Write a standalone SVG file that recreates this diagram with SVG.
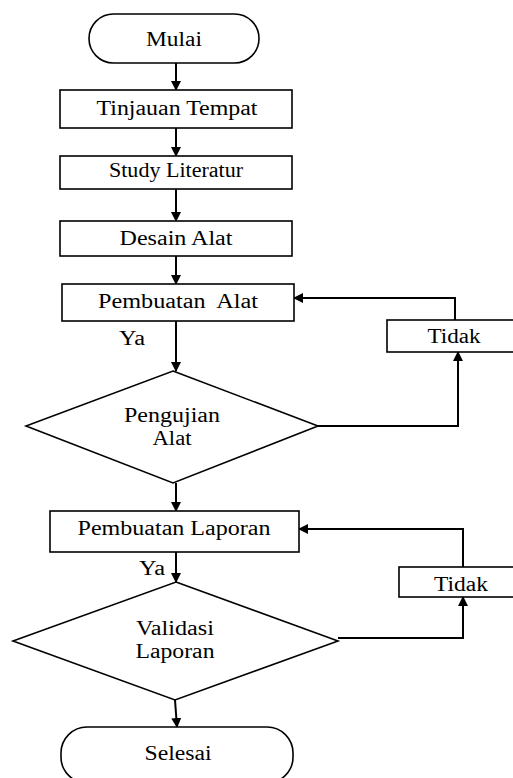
<svg xmlns="http://www.w3.org/2000/svg" width="513" height="778" viewBox="0 0 513 778">
<style>
.s{fill:#fff;stroke:#000;stroke-width:1.6}
.c{fill:none;stroke:#000;stroke-width:2}
.t{font-family:'Liberation Serif','DejaVu Serif',serif;font-size:20px;fill:#000;text-anchor:middle}
</style>
<defs>
<marker id="a" markerWidth="10" markerHeight="10" refX="9" refY="5" orient="auto" markerUnits="userSpaceOnUse">
<path d="M0,0 L10,5 L0,10 Z" fill="#000"/>
</marker>
</defs>
<rect width="513" height="778" fill="#fff"/>
<g id="connectors">
<path class="c" d="M176,63 V90" marker-end="url(#a)"/>
<path class="c" d="M176,128 V156" marker-end="url(#a)"/>
<path class="c" d="M176,189 V221" marker-end="url(#a)"/>
<path class="c" d="M176,256 V284" marker-end="url(#a)"/>
<path class="c" d="M176,321 V371" marker-end="url(#a)"/>
<path class="c" d="M318,426 H458 V352" marker-end="url(#a)"/>
<path class="c" d="M455,320 V298 H294" marker-end="url(#a)"/>
<path class="c" d="M176,483 V511" marker-end="url(#a)"/>
<path class="c" d="M176,552 V582" marker-end="url(#a)"/>
<path class="c" d="M338,638 H463 V597" marker-end="url(#a)"/>
<path class="c" d="M463,567 V529 H299" marker-end="url(#a)"/>
<path class="c" d="M175,700 L177,727" marker-end="url(#a)"/>
</g>
<g id="mulai">
<rect class="s" x="89" y="14" width="170" height="49" rx="24.5"/>
<text class="t" x="174" y="46" textLength="56" lengthAdjust="spacingAndGlyphs">Mulai</text>
</g>
<g id="tinjauan">
<rect class="s" x="60" y="90" width="232" height="38"/>
<text class="t" x="177" y="115" textLength="161" lengthAdjust="spacingAndGlyphs">Tinjauan Tempat</text>
</g>
<g id="study">
<rect class="s" x="60" y="156" width="232" height="33"/>
<text class="t" x="176" y="177" textLength="134" lengthAdjust="spacingAndGlyphs">Study Literatur</text>
</g>
<g id="desain">
<rect class="s" x="60" y="221" width="232" height="35"/>
<text class="t" x="176" y="245" textLength="113" lengthAdjust="spacingAndGlyphs">Desain Alat</text>
</g>
<g id="pembuatan-alat">
<rect class="s" x="62" y="284" width="232" height="37"/>
<text class="t" x="178" y="308" textLength="160" lengthAdjust="spacingAndGlyphs" xml:space="preserve">Pembuatan  Alat</text>
</g>
<g id="ya1">
<text class="t" x="132" y="345" textLength="26" lengthAdjust="spacingAndGlyphs">Ya</text>
</g>
<g id="tidak1">
<rect class="s" x="387" y="320" width="135" height="32"/>
<text class="t" x="454" y="343" textLength="53" lengthAdjust="spacingAndGlyphs">Tidak</text>
</g>
<g id="pengujian">
<polygon class="s" points="173,371 318,426 173,483 26,426"/>
<text class="t" x="172" y="422" textLength="96" lengthAdjust="spacingAndGlyphs">Pengujian</text>
<text class="t" x="172" y="445" textLength="39" lengthAdjust="spacingAndGlyphs">Alat</text>
</g>
<g id="pembuatan-laporan">
<rect class="s" x="50" y="511" width="249" height="41"/>
<text class="t" x="174" y="535" textLength="193" lengthAdjust="spacingAndGlyphs">Pembuatan Laporan</text>
</g>
<g id="ya2">
<text class="t" x="152" y="575" textLength="26" lengthAdjust="spacingAndGlyphs">Ya</text>
</g>
<g id="tidak2">
<rect class="s" x="399" y="567" width="123" height="30"/>
<text class="t" x="461" y="591" textLength="54" lengthAdjust="spacingAndGlyphs">Tidak</text>
</g>
<g id="validasi">
<polygon class="s" points="176,582 338,641 175,700 13,641"/>
<text class="t" x="175" y="635" textLength="78" lengthAdjust="spacingAndGlyphs">Validasi</text>
<text class="t" x="175" y="658" textLength="79" lengthAdjust="spacingAndGlyphs">Laporan</text>
</g>
<g id="selesai">
<rect class="s" x="61" y="727" width="232" height="56" rx="26"/>
<text class="t" x="178" y="760" textLength="67" lengthAdjust="spacingAndGlyphs">Selesai</text>
</g>
</svg>
